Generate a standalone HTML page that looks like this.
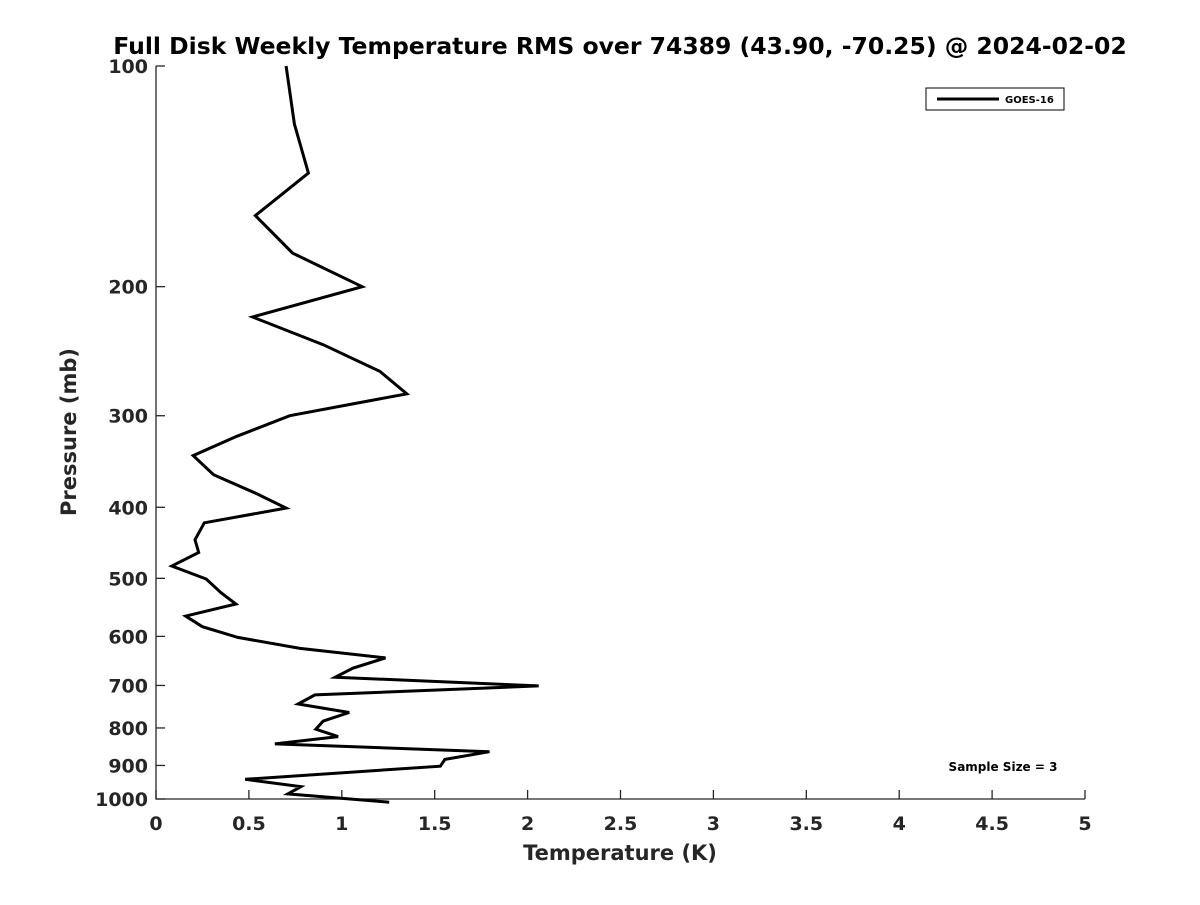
<!DOCTYPE html>
<html><head><meta charset="utf-8"><style>
body{margin:0;background:#fff}
svg text{font-family:"DejaVu Sans","Liberation Sans",sans-serif;font-weight:bold;fill:#262626}
</style></head><body>
<svg width="1200" height="900" xmlns="http://www.w3.org/2000/svg">
<rect width="1200" height="900" fill="#fff"/>
<text x="620" y="54" text-anchor="middle" font-size="23.5" style="fill:#000">Full Disk Weekly Temperature RMS over 74389 (43.90, -70.25) @ 2024-02-02</text>
<g id="axes"></g>
<path id="line" fill="none" stroke="#000" stroke-width="3" stroke-linejoin="miter"/>
<g>
<rect x="926" y="88" width="138" height="22" fill="#fff" stroke="#000" stroke-width="1"/>
<line x1="937" y1="99" x2="999" y2="99" stroke="#000" stroke-width="3"/>
<text x="1005" y="103" font-size="10" style="fill:#000">GOES-16</text>
</g>
<text x="1003" y="771" text-anchor="middle" font-size="12" style="fill:#000">Sample Size = 3</text>
<text x="620" y="860" text-anchor="middle" font-size="21">Temperature (K)</text>
<text transform="translate(76,432) rotate(-90)" text-anchor="middle" font-size="21">Pressure (mb)</text>
</svg>
<script>
const pressures=[100,120,140,160,180,200,220,240,261,280,300,320,340,361,383,401,420,443,461,481,501,523,542,563,582,602,623,642,663,682,701,721,742,762,783,803,822,841,862,883,902,940,962,984,1010];
const temps=[0.70,0.745,0.82,0.535,0.735,1.11,0.52,0.90,1.205,1.35,0.72,0.435,0.20,0.31,0.54,0.70,0.26,0.21,0.23,0.085,0.27,0.35,0.43,0.16,0.25,0.44,0.775,1.235,1.06,0.965,2.06,0.855,0.765,1.04,0.90,0.86,0.98,0.64,1.795,1.555,1.53,0.48,0.78,0.71,1.255];
const xTicks=[0,0.5,1,1.5,2,2.5,3,3.5,4,4.5,5];
const yTicks=[100,200,300,400,500,600,700,800,900,1000];
const X0=156,X1=1085,Y0=66,Y1=799;
const xs=v=>X0+(v/5)*(X1-X0);
const ys=p=>Y0+Math.log10(p/100)*(Y1-Y0);
const NS='http://www.w3.org/2000/svg';
const ax=document.getElementById('axes');
function mk(t,a){const e=document.createElementNS(NS,t);for(const k in a)e.setAttribute(k,a[k]);ax.appendChild(e);return e;}
const al=mk('path',{d:`M${X0},${Y0}V${Y1}H${X1}`,fill:'none',stroke:'#262626','stroke-width':1.3});


xTicks.forEach(v=>{const x=xs(v);
const l=mk('line',{x1:x,x2:x,y1:Y1,y2:Y1-9,stroke:'#262626','stroke-width':1.3});


const t=mk('text',{x:x,y:Y1+31,'text-anchor':'middle','font-size':19});t.textContent=v;

});
yTicks.forEach(p=>{const y=ys(p);
const l=mk('line',{x1:X0,x2:X0+9,y1:y,y2:y,stroke:'#262626','stroke-width':1.3});


const t=mk('text',{x:X0-8,y:y+7,'text-anchor':'end','font-size':19});t.textContent=p;

});
document.getElementById('line').setAttribute('d',temps.map((t,i)=>(i?'L':'M')+xs(t).toFixed(1)+','+ys(pressures[i]).toFixed(1)).join(''));
</script>
</body></html>
